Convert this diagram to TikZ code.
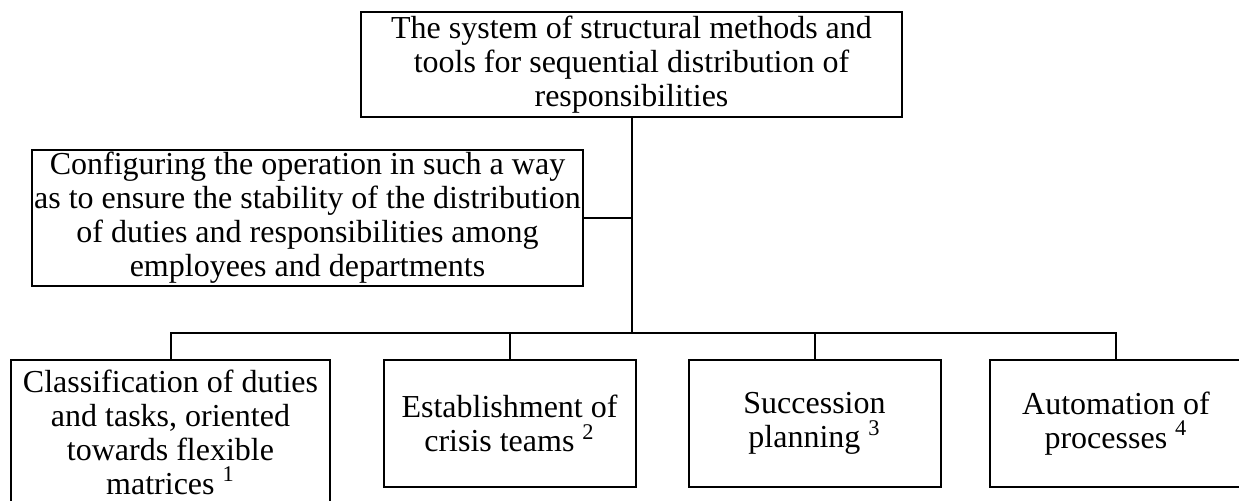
\documentclass[tikz,border=0pt]{standalone}
\usepackage{fontspec}
\setmainfont{Liberation Serif}
\begin{document}
\begin{tikzpicture}[x=0.5pt, y=-0.5pt, line width=1pt,
        every node/.style={draw, align=center, inner sep=0pt, font=\fontsize{16}{17}\selectfont},
        lowbox/.style={minimum width=126pt, minimum height=63.5pt}
]
    \useasboundingbox (0,0) rectangle (1239,501);
    \clip (0,0) rectangle (1239,501);
    \node[minimum width=270.5pt, minimum height=52.5pt] (sys) at (631.5,64.5) {The system of structural methods and\\tools for sequential distribution of\\responsibilities};
    \node[minimum width=275.5pt, minimum height=68pt] (conf) at (307.5,218) {Configuring the operation in such a way\\as to ensure the stability of the distribution\\of duties and responsibilities among\\employees and departments};
    \coordinate (bus) at (631.5,333);
    \node[minimum width=159.5pt, minimum height=72pt] (duty) at (170.5,432) {Classification of duties\\and tasks, oriented\\towards flexible\\matrices \textsuperscript{1}};
    \node[lowbox] (crisis) at (509.5,423.5) {Establishment of\\crisis teams \textsuperscript{2}};
    \node[lowbox] (succ) at (814.5,423.5) {Succession\\planning \textsuperscript{3}};
    \node[lowbox] (auto) at (1116,423.5) {Automation of\\processes \textsuperscript{4}};

    \draw (sys.south) -- (bus);
    \draw (conf.east) -- (conf.east -| bus);
    \draw (duty.north) -- (duty.north |- bus) -| (auto.north);
    \draw (crisis.north) -- (crisis.north |- bus);
    \draw (succ.north) -- (succ.north |- bus);
\end{tikzpicture}
\end{document}
